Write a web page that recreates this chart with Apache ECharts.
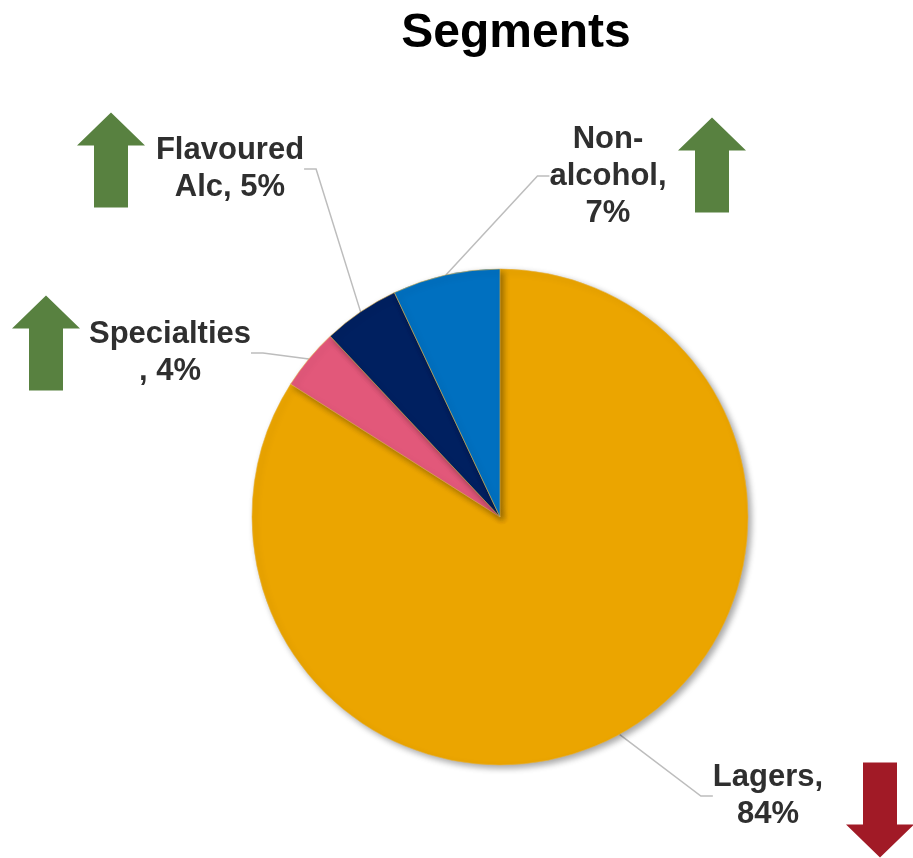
<!DOCTYPE html>
<html>
<head>
<meta charset="utf-8">
<script src="https://cdn.jsdelivr.net/npm/echarts@6/dist/echarts.min.js"></script>
<style>
  html, body { margin: 0; padding: 0; background: #fff; }
  #chart { width: 913px; height: 858px; }
</style>
</head>
<body>
<div id="chart"></div>
<script>
// Segment shares (%), clockwise from 12 o'clock
const segments = ['Lagers', 'Specialties', 'Flavoured Alc', 'Non-alcohol'];
const shares = [84, 4, 5, 7];
// How each label is broken over lines: [name part, separator before value]
const labelNames = ['Lagers', 'Specialties\n', 'Flavoured\nAlc', 'Non-\nalcohol'];
const labelSeps = [',\n', ', ', ', ', ',\n'];
// Trend per segment: 1 = up, -1 = down
const trends = [-1, 1, 1, 1];

const colors = ['#EBA500', '#E2587A', '#002060', '#0070C0'];
const labelPos = [[768, 796], [170, 353], [230, 169], [608, 176]];
const arrowPos = [[880, 810], [46, 343], [111, 160], [712, 165]];

const chart = echarts.init(document.getElementById('chart'), null, { renderer: 'canvas' });

function arrow(cx, cy, dir, color) {
  // arrow ~68 wide, ~95 tall, head ~33 tall, shaft 34 wide
  const hw = 34, sw = 17, h = 95, head = 33;
  const top = cy - h / 2, bot = cy + h / 2;
  let pts;
  if (dir > 0) {
    pts = [[cx, top], [cx + hw, top + head], [cx + sw, top + head], [cx + sw, bot],
           [cx - sw, bot], [cx - sw, top + head], [cx - hw, top + head]];
  } else {
    pts = [[cx, bot], [cx + hw, bot - head], [cx + sw, bot - head], [cx + sw, top],
           [cx - sw, top], [cx - sw, bot - head], [cx - hw, bot - head]];
  }
  return { type: 'polygon', shape: { points: pts }, style: { fill: color }, z: 10 };
}

chart.setOption({
  backgroundColor: '#ffffff',
  title: {
    text: 'Segments',
    left: 511, top: 5, textAlign: 'center',
    textStyle: { fontFamily: 'Liberation Sans, Arial', fontWeight: 'bold', fontSize: 48, color: '#000' }
  },
  graphic: trends.map((t, i) => arrow(arrowPos[i][0], arrowPos[i][1], t, t > 0 ? '#588140' : '#A11A26')),
  series: [{
    type: 'pie',
    center: [500, 517],
    radius: 248,
    startAngle: 90,
    clockwise: true,
    animation: false,
    data: segments.map((n, i) => ({ name: n, value: shares[i], itemStyle: { color: colors[i] } })),
    itemStyle: {
      borderColor: 'rgba(230,180,70,0.7)', borderWidth: 0.8,
      shadowBlur: 6, shadowOffsetX: 3, shadowOffsetY: 3, shadowColor: 'rgba(0,0,0,0.35)'
    },
    label: {
      show: true,
      formatter: p => labelNames[p.dataIndex] + labelSeps[p.dataIndex] + p.value + '%',
      fontFamily: 'Liberation Sans, Arial', fontWeight: 'bold', fontSize: 31, lineHeight: 37,
      color: '#2f2f2f', align: 'center'
    },
    labelLine: {
      show: true, length: 20, length2: 12,
      lineStyle: { color: '#bdbdbd', width: 1.5 }
    },
    labelLayout: p => ({
      x: labelPos[p.dataIndex][0], y: labelPos[p.dataIndex][1],
      align: 'center', verticalAlign: 'middle'
    }),
    emphasis: { disabled: true }
  }]
});
</script>
</body>
</html>
